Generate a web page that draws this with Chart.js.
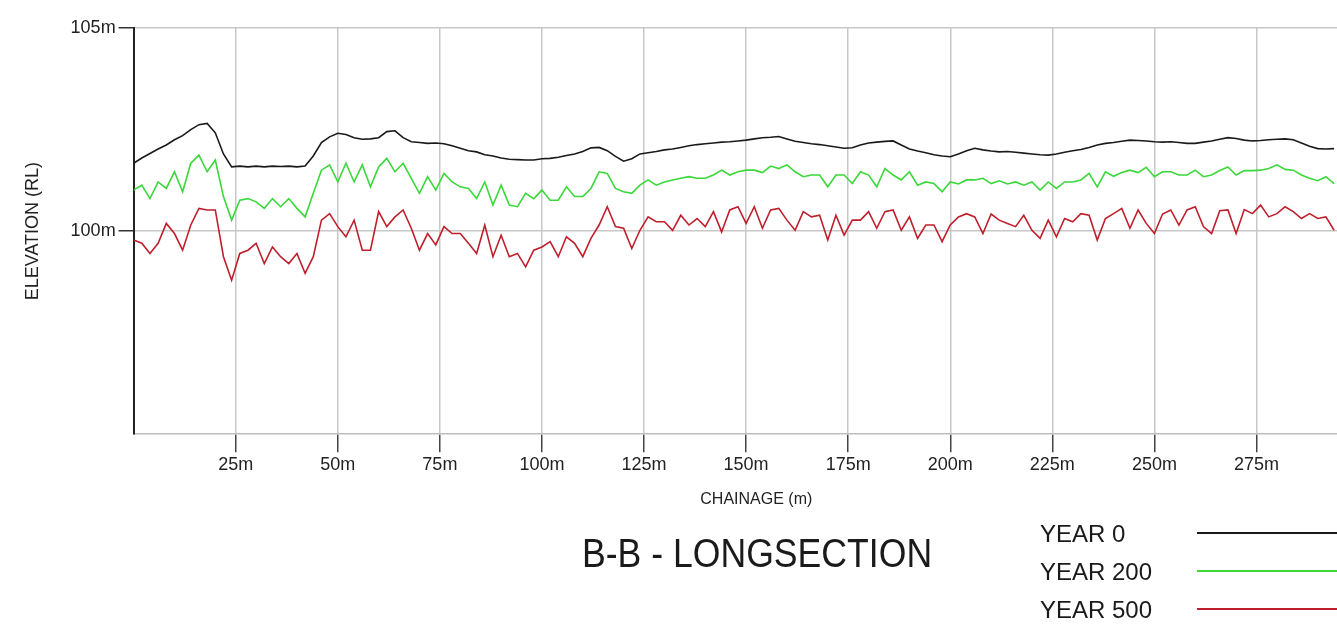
<!DOCTYPE html>
<html>
<head>
<meta charset="utf-8">
<title>B-B - LONGSECTION</title>
<script src="https://cdn.jsdelivr.net/npm/chart.js@4.4.1/dist/chart.umd.min.js"></script>
<style>
  html, body { margin: 0; padding: 0; background: #fff; overflow: hidden; }
  body { width: 1337px; height: 627px; position: relative; font-family: "Liberation Sans", Arial, sans-serif; color: #1a1a1a; }
  /* the drawing is a bit wider than the window, like the cropped original */
  #wrap { position: absolute; left: 0; top: 0; width: 1380px; height: 627px; }
  .title { position: absolute; left: 582px; top: 533px; font-size: 40px; line-height: 40px; transform: scaleX(0.89); transform-origin: left top; white-space: nowrap; }
  .key { position: absolute; left: 1040px; font-size: 24px; line-height: 24px; white-space: nowrap; }
  .swatch { position: absolute; left: 1197px; width: 160px; height: 2px; }
</style>
</head>
<body>
<div id="wrap"><canvas id="longsection"></canvas></div>
<div class="title">B-B - LONGSECTION</div>
<div id="legend"></div>

<script>
// survey points every 2 m along the chainage
const STEP = 2;

// elevations (m RL)
const YEAR_0 = [
  101.67, 101.80, 101.91, 102.02, 102.12, 102.25, 102.35, 102.50, 102.62, 102.65, 102.42, 101.90, 101.58, 101.60, 101.58, 101.60, 101.58, 101.60, 101.59, 101.60, 101.58, 101.60, 101.85, 102.18, 102.32,
  102.41, 102.38, 102.30, 102.26, 102.27, 102.30, 102.45, 102.47, 102.30, 102.20, 102.18, 102.16, 102.17, 102.15, 102.10, 102.04, 101.98, 101.95, 101.88, 101.85, 101.80, 101.77, 101.76, 101.75,
  101.75, 101.78, 101.79, 101.82, 101.86, 101.90, 101.96, 102.05, 102.06, 101.98, 101.84, 101.72, 101.78, 101.90, 101.93, 101.96, 102.00, 102.02, 102.06, 102.10, 102.13, 102.15, 102.17, 102.19, 102.20,
  102.22, 102.24, 102.27, 102.30, 102.31, 102.33, 102.27, 102.21, 102.18, 102.15, 102.13, 102.10, 102.07, 102.04, 102.05, 102.12, 102.17, 102.19, 102.21, 102.22, 102.12, 102.02, 101.97, 101.93,
  101.88, 101.85, 101.83, 101.90, 101.98, 102.04, 102.00, 101.97, 101.95, 101.96, 101.94, 101.92, 101.90, 101.88, 101.87, 101.90, 101.94, 101.98, 102.01, 102.06, 102.12, 102.16, 102.18, 102.21, 102.24,
  102.23, 102.22, 102.20, 102.19, 102.20, 102.18, 102.16, 102.16, 102.19, 102.22, 102.26, 102.30, 102.28, 102.24, 102.22, 102.23, 102.25, 102.26, 102.27, 102.25, 102.17, 102.09, 102.03, 102.02, 102.03
];

const YEAR_200 = [
  101.01, 101.13, 100.80, 101.21, 101.05, 101.46, 100.97, 101.67, 101.87, 101.46, 101.75, 100.85, 100.27, 100.76, 100.80, 100.72, 100.56, 100.80, 100.60, 100.80, 100.56, 100.35, 100.93, 101.50, 101.63,
  101.21, 101.67, 101.21, 101.63, 101.09, 101.58, 101.79, 101.46, 101.67, 101.30, 100.93, 101.34, 101.01, 101.42, 101.21, 101.09, 101.05, 100.80, 101.21, 100.64, 101.13, 100.64, 100.60, 100.93,
  100.80, 101.01, 100.76, 100.76, 101.09, 100.85, 100.85, 101.05, 101.46, 101.42, 101.05, 100.97, 100.93, 101.13, 101.26, 101.13, 101.21, 101.26, 101.30, 101.34, 101.30, 101.30, 101.38, 101.50, 101.38,
  101.46, 101.50, 101.50, 101.44, 101.60, 101.54, 101.63, 101.46, 101.34, 101.38, 101.38, 101.09, 101.38, 101.38, 101.17, 101.46, 101.38, 101.09, 101.54, 101.38, 101.26, 101.46, 101.13, 101.21,
  101.17, 100.97, 101.21, 101.16, 101.26, 101.26, 101.30, 101.17, 101.24, 101.16, 101.21, 101.13, 101.21, 101.01, 101.21, 101.05, 101.21, 101.21, 101.26, 101.42, 101.09, 101.46, 101.35, 101.44, 101.50,
  101.44, 101.57, 101.34, 101.46, 101.46, 101.38, 101.38, 101.50, 101.34, 101.38, 101.49, 101.58, 101.38, 101.49, 101.49, 101.50, 101.54, 101.63, 101.52, 101.50, 101.38, 101.30, 101.24, 101.34, 101.17
];

const YEAR_500 = [
  99.78, 99.70, 99.45, 99.70, 100.19, 99.94, 99.53, 100.15, 100.56, 100.52, 100.52, 99.37, 98.79, 99.45, 99.53, 99.70, 99.20, 99.61, 99.37, 99.20, 99.45, 98.96, 99.37, 100.27, 100.43,
  100.11, 99.86, 100.27, 99.53, 99.53, 100.48, 100.11, 100.35, 100.52, 100.07, 99.53, 99.94, 99.66, 100.11, 99.94, 99.94, 99.70, 99.45, 100.15, 99.37, 99.90, 99.37, 99.45, 99.12,
  99.53, 99.61, 99.74, 99.37, 99.86, 99.70, 99.37, 99.82, 100.15, 100.60, 100.11, 100.07, 99.57, 100.02, 100.35, 100.23, 100.23, 100.02, 100.39, 100.15, 100.31, 100.11, 100.48, 99.98, 100.52,
  100.60, 100.19, 100.60, 100.07, 100.52, 100.56, 100.27, 100.02, 100.48, 100.35, 100.39, 99.78, 100.39, 99.90, 100.27, 100.27, 100.48, 100.07, 100.48, 100.52, 100.02, 100.35, 99.82, 100.15,
  100.15, 99.74, 100.15, 100.35, 100.43, 100.35, 99.94, 100.42, 100.27, 100.19, 100.11, 100.39, 100.02, 99.82, 100.27, 99.86, 100.31, 100.23, 100.43, 100.39, 99.78, 100.31, 100.43, 100.56, 100.07,
  100.52, 100.19, 99.94, 100.42, 100.52, 100.15, 100.52, 100.60, 100.11, 99.94, 100.50, 100.52, 99.94, 100.53, 100.43, 100.64, 100.35, 100.43, 100.60, 100.48, 100.31, 100.43, 100.31, 100.35, 100.02
];

const xTicks = [25, 50, 75, 100, 125, 150, 175, 200, 225, 250, 275];
const yTicks = [100, 105];

const series = [
  { label: 'YEAR 0', values: YEAR_0, color: '#1a1a1a' },
  { label: 'YEAR 200', values: YEAR_200, color: '#3ad83a' },
  { label: 'YEAR 500', values: YEAR_500, color: '#bf1f2c' }
];

function toPoints(values) {
  return values.map((v, i) => ({ x: i * STEP, y: v }));
}

// legend below the chart, on the right
const legend = document.getElementById('legend');
series.forEach((s, i) => {
  const key = document.createElement('div');
  key.className = 'key';
  key.style.top = (522 + i * 38) + 'px';
  key.textContent = s.label;
  legend.appendChild(key);

  const sw = document.createElement('div');
  sw.className = 'swatch';
  sw.style.top = (532 + i * 38) + 'px';
  sw.style.background = s.color;
  legend.appendChild(sw);
});

Chart.defaults.font.family = '"Liberation Sans", Arial, sans-serif';

new Chart(document.getElementById('longsection'), {
  type: 'line',
  data: {
    datasets: series.map(s => ({
      label: s.label,
      data: toPoints(s.values),
      borderColor: s.color,
      borderWidth: 1.6,
      pointRadius: 0,
      tension: 0,
      fill: false
    }))
  },
  options: {
    responsive: true,
    maintainAspectRatio: false,
    animation: false,
    events: [],
    layout: { padding: { left: 0, top: 28, right: 1, bottom: 118 } },
    plugins: {
      legend: { display: false },
      tooltip: { enabled: false }
    },
    scales: {
      x: {
        type: 'linear',
        min: 0,
        max: 305,
        afterBuildTicks: axis => { axis.ticks = xTicks.map(v => ({ value: v })); },
        ticks: {
          callback: v => v + 'm',
          font: { size: 18 },
          color: '#222',
          padding: 2,
          maxRotation: 0,
          autoSkip: false
        },
        grid: { color: '#c8c8c8', lineWidth: 1.5, tickColor: '#444', tickLength: 18 },
        border: { color: '#bdbdbd', width: 1.5 },
        title: {
          display: true,
          text: 'CHAINAGE (m)',
          font: { size: 16 },
          color: '#222',
          padding: { top: 12, bottom: 0 }
        }
      },
      y: {
        min: 95,
        max: 105,
        afterBuildTicks: axis => { axis.ticks = yTicks.map(v => ({ value: v })); },
        ticks: {
          callback: v => v + 'm',
          font: { size: 18 },
          color: '#222',
          padding: 3
        },
        grid: { color: '#c8c8c8', lineWidth: 1.5, tickColor: '#333', tickLength: 15 },
        border: { color: '#222', width: 2 },
        title: {
          display: true,
          text: 'ELEVATION (RL)',
          font: { size: 18 },
          color: '#222',
          padding: { top: 22, bottom: 24 }
        }
      }
    }
  }
});
</script>
</body>
</html>
